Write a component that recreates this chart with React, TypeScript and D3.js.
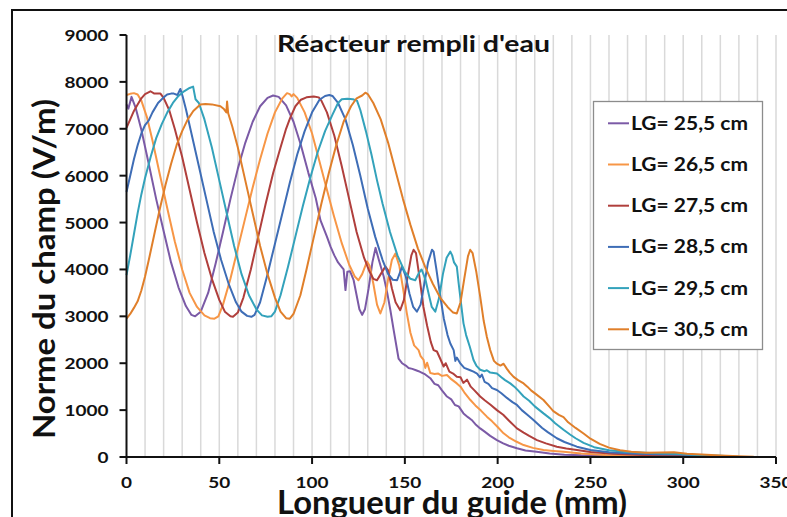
import * as React from "react";
import * as d3 from "d3";

type Pt = [number, number];

const seriesNames = ["LG= 25,5 cm", "LG= 26,5 cm", "LG= 27,5 cm", "LG= 28,5 cm", "LG= 29,5 cm", "LG= 30,5 cm"];
const seriesColors = ["#7b5aa6", "#f79646", "#b03f3c", "#3e6db6", "#33a2bb", "#e07f2a"];
const xTicks = [0, 50, 100, 150, 200, 250, 300, 350];
const yTicks = [0, 1000, 2000, 3000, 4000, 5000, 6000, 7000, 8000, 9000];
const xGrid = d3.range(10, 351, 10);

const lg255: Pt[] = [[0,7520],[1,7430],[2.7,7680],[5,7440],[8,6980],[12,6250],[16,5500],[20,4820],[24,4150],[28,3620],[32,3220],[35,3030],[37,3000],[40,3100],[44,3500],[48,4120],[52,4800],[56,5500],[60,6150],[64,6700],[68,7150],[72,7480],[76,7660],[79,7710],[82,7680],[86,7500],[90,7150],[94,6650],[98,6060],[102,5520],[104.5,5050],[108,4700],[110,4480],[112,4300],[114,4150],[116,4050],[117,4000],[118,3560],[119,3950],[120.5,3960],[122.4,3770],[124,3450],[125.5,3150],[127,3030],[128.5,3150],[130.5,3600],[132.5,4150],[134.2,4460],[136,4200],[138.6,3850],[140.5,3500],[142.2,3130],[144,2700],[146.6,2100],[148.5,2000],[150.5,1950],[152,1900],[154,1880],[156,1850],[157.4,1830],[159,1800],[161,1760],[163.7,1680],[166,1560],[168,1530],[170,1420],[172.7,1290],[175,1230],[177,1110],[179,1080],[181.6,930],[184,850],[186,790],[188,700],[190.6,610],[193,540],[196,450],[199.6,360],[203,290],[206,240],[210.4,185],[215,140],[221,110],[228,75],[236,50],[245,35],[258,25],[272,18],[290,10],[305,5]];

const lg265: Pt[] = [[0,7720],[2,7745],[4,7760],[6,7730],[8,7600],[11,7250],[14,6750],[18,6020],[22,5300],[26,4600],[30,4000],[34,3500],[38,3200],[42,3020],[45,2960],[47.4,2950],[49.5,3000],[52,3250],[56,3800],[60,4450],[64,5100],[68,5750],[72,6350],[76,6900],[80,7350],[84,7650],[86.5,7760],[88,7740],[89,7690],[90,7740],[92,7660],[96,7350],[100,6900],[104,6300],[108,5700],[111.7,5150],[116,4560],[120,4100],[123,3850],[125,3770],[127,3900],[129.6,4170],[131,4080],[133,3700],[135,3250],[136.8,3060],[139,3300],[141,3800],[143,4200],[144.9,4340],[147,4080],[149,3600],[151,3080],[153,2650],[155,2380],[157.4,2280],[158.5,2150],[160.1,2070],[161,1900],[162,2010],[163.7,1790],[166,1770],[168,1780],[170,1730],[172.7,1750],[175,1660],[178,1570],[180,1500],[182,1380],[185.2,1220],[188,1100],[191,990],[194.2,860],[197,760],[200,640],[203.2,505],[206,420],[210,330],[214,255],[219,195],[224.7,150],[230,130],[235.5,113],[245,75],[258,45],[275,30],[292,20],[310,5]];

const lg275: Pt[] = [[0,7020],[2,7200],[4,7380],[6,7520],[8,7650],[10,7740],[12.9,7800],[15,7750],[18.3,7750],[20,7660],[23,7400],[26,7000],[30,6400],[34,5700],[38,5000],[42,4350],[46,3800],[50,3350],[53,3100],[56,3000],[57.4,2990],[60,3080],[63,3400],[67,4000],[71,4700],[75,5400],[79,6050],[83,6600],[86,7000],[87.9,7200],[88.5,7260],[91,7480],[94,7620],[97,7670],[100.9,7690],[103.6,7670],[105,7600],[108,7350],[112,6850],[116,6200],[120,5500],[124,4800],[128,4250],[131,3950],[133,3800],[135,3770],[137,3900],[139.5,4060],[141,3980],[143,3600],[145,3300],[147.5,3130],[149.5,3350],[151.5,3850],[153.5,4300],[154.7,4420],[156,4350],[158,3800],[160,3200],[162,2800],[164,2450],[165.5,2280],[167.3,2250],[169,2100],[170.9,1930],[172,2000],[174,1820],[176,1780],[178,1710],[180,1700],[181.5,1580],[183.5,1650],[185.5,1500],[187.5,1420],[190.6,1290],[193,1210],[196,1120],[199.6,1000],[203,900],[206,780],[210.4,610],[214,520],[217,450],[221.2,360],[226,290],[231.9,220],[237,180],[242.7,150],[250,105],[262,70],[278,45],[295,28],[315,5]];

const lg285: Pt[] = [[0,5650],[2,6000],[4,6350],[6,6650],[8,6900],[10,7080],[12,7180],[14,7350],[17,7550],[20,7670],[21.9,7730],[24,7750],[25.5,7750],[27.5,7720],[29,7850],[30.2,7700],[32,7420],[35,6900],[39,6200],[43,5500],[47,4800],[51,4200],[55,3700],[59,3300],[62,3100],[65,3010],[67.3,2990],[69,3030],[72,3300],[76,3900],[80,4550],[84,5200],[88,5850],[92,6450],[96,6950],[100,7350],[104,7620],[107,7700],[109.3,7720],[111,7700],[114,7550],[118,7200],[122,6650],[126,6000],[130,5300],[134,4700],[138,4200],[141,3900],[143.5,3780],[145.8,3770],[147.5,3950],[148.5,4060],[150.5,3850],[152.5,3480],[154.5,3200],[156.5,3100],[158.5,3250],[160.5,3700],[162.5,4150],[164.6,4420],[165.5,4380],[167,4000],[169,3450],[171,2950],[173,2600],[174.5,2420],[176.3,2280],[177.2,2050],[178,2120],[180,1990],[182,1900],[185.2,1850],[187,1820],[188.9,1780],[190.5,1700],[191.5,1760],[193,1600],[195,1560],[197,1470],[199.6,1430],[202,1360],[205,1260],[208,1170],[210.4,1110],[213,1000],[216,900],[219,800],[221.2,720],[224,620],[227,530],[231.9,400],[236,320],[242.7,220],[250,150],[260,100],[272,75],[285,60],[298,55],[310,30],[322,5]];

const lg295: Pt[] = [[0,3880],[2,4300],[4,4750],[6,5200],[8,5600],[10,5950],[13,6400],[16,6800],[19,7100],[22,7350],[25,7550],[28,7700],[31,7800],[34,7870],[35.9,7900],[37.2,7630],[39,7550],[42,7200],[46,6600],[50,5900],[54,5200],[58,4500],[62,3900],[66,3450],[70,3150],[73,3020],[76,2990],[78,3000],[80,3100],[83,3450],[87,4050],[91,4700],[95,5350],[99,5950],[103,6500],[107,6950],[111,7300],[114,7550],[116,7630],[119,7640],[122,7630],[124.2,7600],[126,7400],[129,6950],[132,6450],[135,5900],[138,5400],[142,4800],[146,4300],[150,3950],[153,3800],[155.6,3770],[157.5,3920],[159,4000],[161,3800],[163,3450],[164.5,3200],[166.4,3100],[168.5,3400],[170.5,3900],[172.5,4250],[174.5,4380],[175.5,4300],[176.5,4150],[178,4060],[179,3700],[180.5,3200],[181.6,2850],[183,2600],[185,2350],[187,2070],[188.5,1950],[190.6,1860],[193,1830],[194.2,1850],[196,1800],[199.6,1780],[202,1700],[204,1640],[206.8,1570],[209,1500],[211,1420],[214,1290],[217,1200],[220,1080],[224.7,930],[228,830],[231,720],[235.5,580],[239,480],[242,400],[246.3,300],[252,210],[260,145],[270,105],[282,85],[295,70],[308,45],[320,25],[330,5]];

const lg305: Pt[] = [[0,2950],[2,3050],[4,3180],[6,3320],[8,3550],[10,3850],[12,4200],[15,4750],[18,5300],[21,5800],[24,6250],[27,6650],[30,6950],[33,7200],[36,7380],[39.8,7520],[42.5,7530],[46,7520],[50.6,7480],[52.5,7420],[53.8,7350],[54.2,7580],[54.8,7330],[57,7050],[60,6600],[64,5900],[68,5200],[72,4500],[76,3900],[80,3400],[83,3100],[86,2960],[88,2950],[90,3050],[93.7,3450],[97,4000],[101,4700],[105,5400],[109,6050],[113,6650],[117,7150],[121,7480],[124,7650],[127,7710],[128.7,7770],[130,7740],[133,7550],[137,7200],[141,6700],[145,6100],[149,5500],[153,4950],[157,4450],[161,4050],[165,3700],[169,3400],[173,3200],[176,3080],[178,3060],[180,3300],[182,3800],[184,4280],[185.2,4420],[186.5,4350],[188.5,3950],[190.6,3420],[192.5,2900],[194.2,2560],[196,2280],[198,2050],[199.6,1990],[201.5,1950],[203.2,1990],[205,1880],[206.5,1800],[208.6,1710],[211,1640],[214,1570],[216,1500],[218,1420],[221,1330],[224.7,1215],[228,1070],[230,980],[233,900],[235.5,850],[238,740],[242,620],[246.3,500],[250,390],[255,280],[260,200],[266,145],[272,110],[280,92],[288,98],[295,100],[302,70],[310,52],[320,30],[330,14],[338,5]];

const seriesData = [lg255, lg265, lg275, lg285, lg295, lg305];

const FONT = "Lato, 'Open Sans', sans-serif";

function drawChart(svgRef: React.RefObject<SVGSVGElement>) {
  const svg = d3.select(svgRef.current);
  svg.selectAll("*").remove();

  const x = d3.scaleLinear().domain([0, 350]).range([126.5, 776]);
  const y = d3.scaleLinear().domain([0, 9000]).range([457, 35]);

  // chart frame (cropped on the right and bottom)
  svg.append("path")
    .attr("d", "M12,520 L12,10 L790,10")
    .attr("fill", "none")
    .attr("stroke", "#111")
    .attr("stroke-width", 2);

  // vertical gridlines
  svg.append("g")
    .selectAll("line")
    .data(xGrid)
    .enter()
    .append("line")
    .attr("x1", (d) => x(d))
    .attr("x2", (d) => x(d))
    .attr("y1", y(9000))
    .attr("y2", y(0))
    .attr("stroke", "#d9d9d9")
    .attr("stroke-width", 1.5);

  // title
  svg.append("text")
    .attr("x", 413.5)
    .attr("y", 52)
    .attr("text-anchor", "middle")
    .attr("textLength", 273)
    .attr("lengthAdjust", "spacingAndGlyphs")
    .style("font-family", FONT)
    .style("font-weight", 700)
    .style("font-size", "23px")
    .style("fill", "#111")
    .text("Réacteur rempli d'eau");

  // series
  const line = d3.line<Pt>()
    .x((d) => x(d[0]))
    .y((d) => y(d[1]));

  svg.append("g")
    .selectAll("path")
    .data(seriesData)
    .enter()
    .append("path")
    .attr("d", (d) => line(d))
    .attr("fill", "none")
    .attr("stroke", (_, i) => seriesColors[i])
    .attr("stroke-width", 2)
    .attr("stroke-linejoin", "round");

  // axes
  const yAxis = svg.append("g").attr("transform", `translate(${x(0)},0)`);
  yAxis.append("line")
    .attr("y1", y(9000)).attr("y2", y(0))
    .attr("stroke", "#111").attr("stroke-width", 2);
  yAxis.selectAll("line.tick")
    .data(yTicks)
    .enter()
    .append("line")
    .attr("class", "tick")
    .attr("x1", -7).attr("x2", 0)
    .attr("y1", (d) => y(d)).attr("y2", (d) => y(d))
    .attr("stroke", "#111").attr("stroke-width", 2);
  yAxis.selectAll("text")
    .data(yTicks)
    .enter()
    .append("text")
    .attr("x", -18)
    .attr("y", (d) => y(d) + 6)
    .attr("text-anchor", "end")
    .attr("textLength", (d) => String(d).length * 11)
    .attr("lengthAdjust", "spacingAndGlyphs")
    .style("font-family", FONT)
    .style("font-weight", 700)
    .style("font-size", "16px")
    .style("fill", "#111")
    .text((d) => String(d));

  const xAxis = svg.append("g").attr("transform", `translate(0,${y(0)})`);
  xAxis.append("line")
    .attr("x1", x(0) - 1).attr("x2", x(350))
    .attr("stroke", "#111").attr("stroke-width", 2);
  xAxis.selectAll("line.tick")
    .data(xTicks)
    .enter()
    .append("line")
    .attr("class", "tick")
    .attr("x1", (d) => x(d)).attr("x2", (d) => x(d))
    .attr("y1", 0).attr("y2", 7)
    .attr("stroke", "#111").attr("stroke-width", 2);
  xAxis.selectAll("text")
    .data(xTicks)
    .enter()
    .append("text")
    .attr("x", (d) => x(d))
    .attr("y", 31)
    .attr("text-anchor", "middle")
    .attr("textLength", (d) => String(d).length * 11)
    .attr("lengthAdjust", "spacingAndGlyphs")
    .style("font-family", FONT)
    .style("font-weight", 700)
    .style("font-size", "16px")
    .style("fill", "#111")
    .text((d) => String(d));

  // axis titles
  svg.append("text")
    .attr("x", 452)
    .attr("y", 514)
    .attr("text-anchor", "middle")
    .attr("textLength", 350)
    .attr("lengthAdjust", "spacingAndGlyphs")
    .style("font-family", FONT)
    .style("font-weight", 700)
    .style("font-size", "32px")
    .style("fill", "#111")
    .text("Longueur du guide (mm)");

  svg.append("text")
    .attr("transform", "translate(55,269) rotate(-90)")
    .attr("text-anchor", "middle")
    .attr("textLength", 340)
    .attr("lengthAdjust", "spacingAndGlyphs")
    .style("font-family", FONT)
    .style("font-weight", 700)
    .style("font-size", "31px")
    .style("fill", "#111")
    .text("Norme du champ (V/m)");

  // legend
  const legend = svg.append("g");
  legend.append("rect")
    .attr("x", 593.5).attr("y", 101.5)
    .attr("width", 169).attr("height", 248)
    .attr("fill", "#fff")
    .attr("stroke", "#8c8c8c")
    .attr("stroke-width", 1.3);
  const item = legend.selectAll("g.item")
    .data(seriesNames)
    .enter()
    .append("g")
    .attr("class", "item")
    .attr("transform", (_, i) => `translate(0,${123.3 + i * 41.2})`);
  item.append("line")
    .attr("x1", 608).attr("x2", 629)
    .attr("stroke", (_, i) => seriesColors[i])
    .attr("stroke-width", 2);
  item.append("text")
    .attr("x", 631)
    .attr("y", 6.5)
    .attr("textLength", 117)
    .attr("lengthAdjust", "spacingAndGlyphs")
    .style("font-family", FONT)
    .style("font-weight", 700)
    .style("font-size", "18px")
    .style("fill", "#111")
    .text((d) => d);
}

const App: React.FunctionComponent = () => {
  const svg = React.useRef<SVGSVGElement>(null);
  React.useEffect(() => {
    drawChart(svg);
  }, [svg]);

  return (
    <div id="chart" style={{ position: "absolute", left: 0, top: 0 }}>
      <svg ref={svg} width={787} height={517} style={{ display: "block", background: "#fff" }} />
    </div>
  );
};

export default App;
